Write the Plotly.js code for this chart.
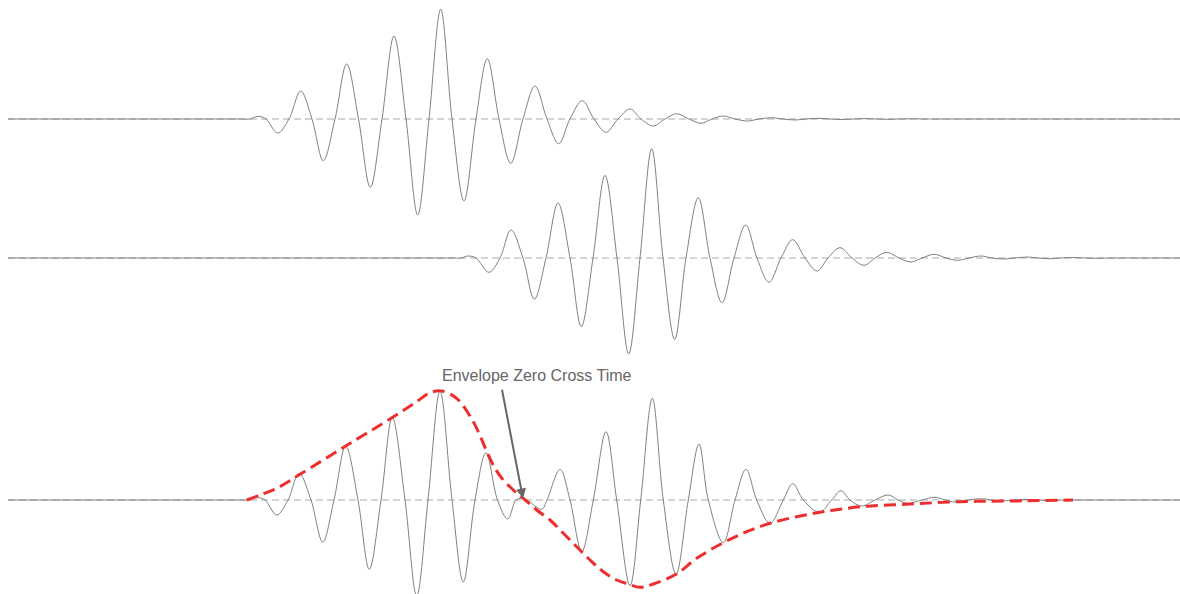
<!DOCTYPE html>
<html>
<head>
<meta charset="utf-8">
<script src="https://cdn.plot.ly/plotly-3.0.1.min.js"></script>
<style>html,body{margin:0;padding:0;background:#fff;}#chart{width:1180px;height:594px;}</style>
</head>
<body>
<div id="chart"></div>
<script>
// Wave 1 (top): time samples and amplitudes (extrema and zero crossings)
const tTop = [8, 240, 250, 258, 266, 277.7, 289, 300.7, 312, 323.3, 335, 346.7, 358.5, 370.3, 382, 394, 406, 417.7, 429, 440.7, 452, 464, 476, 487.3, 499, 510.7, 523, 535, 547, 558.7, 570, 582.3, 594, 606, 618, 630, 641, 653.3, 665, 676.7, 689, 701, 712, 723.3, 735, 747.3, 759, 771.7, 783, 795, 806, 818, 830, 841, 853, 865, 877, 888, 900, 912, 925, 935, 1180];
const aTop = [0, 0, 0, 2.7, 0, -14, 0, 28, 0, -41.7, 0, 55, 0, -68.3, 0, 83, 0, -96, 0, 109.7, 0, -82, 0, 60.3, 0, -44.3, 0, 33, 0, -24.7, 0, 18.3, 0, -13.3, 0, 10, 0, -7, 0, 5.3, 0, -4.3, 0, 3, 0, -2, 0, 1.3, 0, -1, 0, 0.7, 0, -0.5, 0, 0.4, 0, -0.3, 0, 0.2, 0, 0, 0];

// Wave 2 (middle)
const tMid = [8, 452, 461, 468.3, 476, 489, 500, 511, 523, 534.3, 546, 558, 570, 581.3, 593, 605, 617, 628.7, 640, 651.7, 663, 674.7, 686, 698.3, 710, 722, 734, 745.7, 757, 769, 781, 792.7, 805, 817, 828, 840, 852, 864, 875, 886.7, 899, 911, 922, 934.3, 946, 957.7, 969, 980.7, 992, 1004, 1015, 1027, 1038, 1050, 1061, 1073, 1085, 1097, 1110, 1120, 1180];
const aMid = [0, 0, 0, 2, 0, -14.3, 0, 28, 0, -41.3, 0, 55, 0, -68.7, 0, 82.7, 0, -96, 0, 109.3, 0, -81.3, 0, 60.3, 0, -44.7, 0, 33, 0, -24.3, 0, 18.3, 0, -13, 0, 10.3, 0, -7.3, 0, 5.7, 0, -4, 0, 3.7, 0, -2.3, 0, 2, 0, -1, 0, 1, 0, -0.7, 0, 0.5, 0, -0.3, 0, 0, 0];

// Combined wave (bottom)
const tBot = [8, 238, 247, 258, 265, 276.7, 288, 299, 311, 322.7, 334, 345.7, 358, 369.3, 381, 392.3, 405, 416.7, 428, 440, 452, 463.3, 475, 486, 497.5, 507.7, 516, 521.7, 527, 541.7, 547, 560, 570, 581.7, 593.3, 606, 616.7, 630, 640.7, 652.3, 663.3, 676, 688.3, 699, 708.3, 723.3, 735, 746, 756.7, 770, 783.3, 792.7, 803.3, 819.3, 831.7, 841, 850, 861.7, 875, 888.3, 898, 908, 922, 935, 945, 955, 968, 981.7, 992, 1002, 1015, 1027, 1038, 1050, 1065, 1075, 1180];
const aBot = [0, 0, 0, 2.3, 0, -15, 0, 26.7, 0, -42, 0, 54, 0, -69.3, 0, 82.7, 0, -96, 0, 109, 0, -82, 0, 47.3, 0, -19, 0, 1.7, 0, -9.3, 0, 30.7, 0, -51.7, 0, 68.3, 0, -85.7, 0, 101.7, 0, -74.3, 0, 56, 0, -42.7, 0, 30.7, 0, -23.3, 0, 16.3, 0, -12.3, 0, 9.3, 0, -6, 0, 5, 0, -3.3, 0, 2.7, 0, -2, 0, 1.3, 0, -1, 0, 0.5, 0, -0.5, 0, 0, 0];

// Envelope of the combined wave
const tEnv = [246.7, 260, 276.7, 300, 345.7, 392.7, 416.7, 430, 441.7, 456.7, 468.3, 476.7, 483.3, 488.3, 495, 503.3, 513.3, 523.3, 536.7, 550, 563.3, 576.7, 590, 603.3, 616.7, 628.3, 640, 653.3, 676, 696.7, 723.3, 746.7, 770, 796.7, 820, 840, 861.7, 910, 960, 1010, 1073];
const aEnv = [0, 5, 11.7, 25.7, 54, 82.7, 98.3, 107.3, 109, 101.7, 86.7, 71.7, 56.7, 45, 31.7, 20, 10, 1.7, -10, -20, -33.3, -46.7, -60, -71.7, -80, -84, -87.3, -84, -74.3, -58.3, -42.7, -31.7, -23.3, -16.7, -12.3, -9.3, -6.7, -4, -1.7, -1, 0];

const annText = "Envelope Zero Cross Time";
const zeroCrossT = 523;

const waveLine = {color: '#808080', width: 1, shape: 'spline', smoothing: 1};
const traces = [
  {x: tTop, y: aTop, yaxis: 'y', mode: 'lines', line: waveLine, hoverinfo: 'skip'},
  {x: tMid, y: aMid, yaxis: 'y2', mode: 'lines', line: waveLine, hoverinfo: 'skip'},
  {x: tBot, y: aBot, yaxis: 'y3', mode: 'lines', line: waveLine, hoverinfo: 'skip'},
  {x: tEnv, y: aEnv, yaxis: 'y3', mode: 'lines', line: {color: '#ee2e2e', width: 3, dash: '12px,6px', shape: 'spline', smoothing: 1}, hoverinfo: 'skip'}
];

const hidden = {visible: false, showgrid: false, zeroline: false, fixedrange: true};
function baseline(yref) {
  return {type: 'line', xref: 'x', yref: yref, x0: 8, x1: 1180, y0: 0, y1: 0, layer: 'below',
          line: {color: '#aaaaaa', width: 1, dash: '7px,4px'}};
}
const layout = {
  width: 1180, height: 594,
  margin: {l: 0, r: 0, t: 0, b: 0},
  paper_bgcolor: '#ffffff', plot_bgcolor: '#ffffff',
  showlegend: false,
  xaxis: Object.assign({range: [0, 1180]}, hidden),
  yaxis: Object.assign({range: [-475, 119]}, hidden),
  yaxis2: Object.assign({range: [-336, 258], overlaying: 'y'}, hidden),
  yaxis3: Object.assign({range: [-94, 500], overlaying: 'y'}, hidden),
  shapes: [baseline('y'), baseline('y2'), baseline('y3')],
  annotations: [
    {xref: 'x', yref: 'y3', x: 537, y: 125, text: annText, showarrow: false,
     font: {family: 'Liberation Sans, Arial, sans-serif', size: 16, color: '#666666'}},
    {xref: 'x', yref: 'y3', x: zeroCrossT, y: 1.5, axref: 'x', ayref: 'y3', ax: 501.7, ay: 111.7,
     text: '', showarrow: true, arrowhead: 2, arrowsize: 1, arrowwidth: 2, arrowcolor: '#666666'}
  ]
};
Plotly.newPlot('chart', traces, layout, {displayModeBar: false, staticPlot: true});
</script>
</body>
</html>
